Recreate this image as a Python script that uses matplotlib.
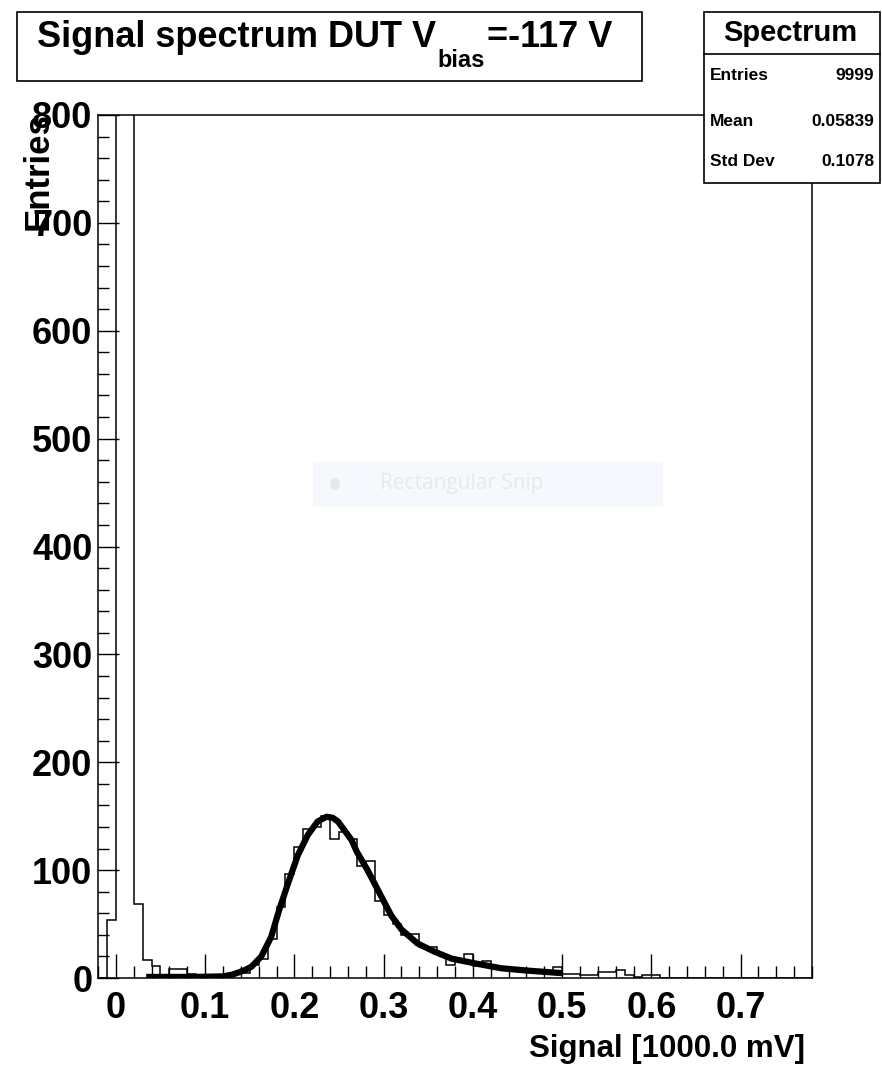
import numpy as np
import matplotlib
matplotlib.use("Agg")
import matplotlib.pyplot as plt
from matplotlib.patches import Rectangle, Circle
from matplotlib.ticker import MultipleLocator

W, H = 882, 1067

# histogram: 80 bins of width 0.01 between -0.02 and 0.78
bin_lo = -0.02
bin_hi = 0.78
counts = [0, 54, 4000, 3911, 69, 17, 11, 1, 8, 8,
          4, 2, 2, 1, 1, 4, 5, 12, 18, 36,
          66, 96, 121, 138, 140, 150, 129, 135, 129, 104,
          108, 71, 58, 50, 40, 41, 29, 29, 22, 12,
          17, 22, 11, 16, 9, 8, 9, 7, 6, 5,
          4, 10, 4, 4, 3, 3, 6, 6, 7, 3,
          1, 3, 3, 0, 0, 0, 0, 0, 0, 0,
          0, 0, 0, 0, 0, 0, 0, 0, 0, 0]

# fitted curve
fit_x = [0.034, 0.06, 0.09, 0.12, 0.13, 0.137, 0.145, 0.152, 0.163, 0.174,
         0.183, 0.193, 0.204, 0.215, 0.226, 0.236, 0.243, 0.249, 0.264, 0.27,
         0.282, 0.294, 0.3085, 0.32, 0.338, 0.357, 0.376, 0.402, 0.432, 0.462, 0.5]
fit_y = [1, 1, 1, 1.5, 3, 5, 7.5, 10.5, 20, 38,
         63, 88, 114, 132.5, 145, 149.5, 148.5, 145, 128, 117,
         100, 81, 58, 45, 32, 24.4, 18, 13.6, 9, 6.8, 4.5]

x_ticks = [0, 0.1, 0.2, 0.3, 0.4, 0.5, 0.6, 0.7]
x_tick_labels = ["0", "0.1", "0.2", "0.3", "0.4", "0.5", "0.6", "0.7"]
y_ticks = [0, 100, 200, 300, 400, 500, 600, 700, 800]

stats_names = ["Entries", "Mean", "Std Dev"]
stats_values = ["9999", "0.05839", "0.1078"]


def fx(px):
    return px / W


def fy(py):
    return 1 - py / H


plt.rcParams["font.family"] = ["Liberation Sans", "DejaVu Sans"]
plt.rcParams["font.weight"] = "bold"

fig = plt.figure(figsize=(W / 100, H / 100), dpi=100)
ax = fig.add_axes([fx(98), fy(978), (812 - 98) / W, (978 - 115) / H])

edges = np.linspace(bin_lo, bin_hi, len(counts) + 1)
ax.stairs(counts, edges, color="black", linewidth=1.1, baseline=None)
ax.plot(fit_x, fit_y, color="black", linewidth=4.5, solid_capstyle="butt",
        solid_joinstyle="round")

ax.set_xlim(bin_lo, bin_hi)
ax.set_ylim(0, 800)
ax.set_xticks(x_ticks, x_tick_labels)
ax.set_yticks(y_ticks)
ax.xaxis.set_minor_locator(MultipleLocator(0.02))
ax.yaxis.set_minor_locator(MultipleLocator(20))
ax.tick_params(axis="both", which="both", direction="in", top=False, right=False,
               width=1.0, labelsize=26)
ax.tick_params(axis="x", which="major", length=17, pad=9)
ax.tick_params(axis="x", which="minor", length=8.5)
ax.tick_params(axis="y", which="major", length=15, pad=4)
ax.tick_params(axis="y", which="minor", length=8)
for s in ax.spines.values():
    s.set_linewidth(1.1)

# axis titles
fig.text(fx(805), fy(1057), "Signal [1000.0 mV]", ha="right", va="baseline",
         fontsize=22.5)
fig.text(fx(38), fy(112), "Entries", rotation=90, ha="center", va="top",
         fontsize=25)

# title box
fig.add_artist(Rectangle((fx(17), fy(81)), (642 - 17) / W, (81 - 12) / H,
                         transform=fig.transFigure, facecolor="white",
                         edgecolor="black", linewidth=1.2, zorder=5))
renderer = fig.canvas.get_renderer()
t1 = fig.text(fx(37), fy(47), "Signal spectrum DUT V", ha="left", va="baseline",
              fontsize=26, zorder=6)
x1 = t1.get_window_extent(renderer).x1
t2 = fig.text(x1 / W + 0.002, fy(67), "bias", ha="left", va="baseline",
              fontsize=17, zorder=6)
x2 = t2.get_window_extent(renderer).x1
fig.text(x2 / W + 0.002, fy(47), "=-117 V", ha="left", va="baseline",
         fontsize=26, zorder=6)

# stats box
fig.add_artist(Rectangle((fx(704), fy(183)), (880 - 704) / W, (183 - 12) / H,
                         transform=fig.transFigure, facecolor="white",
                         edgecolor="black", linewidth=1.2, zorder=5))
fig.add_artist(plt.Line2D([fx(704), fx(880)], [fy(54), fy(54)],
                          transform=fig.transFigure, color="black",
                          linewidth=1.2, zorder=6))
fig.text(fx(790), fy(33), "Spectrum", ha="center", va="center", fontsize=21,
         zorder=6)
for i, (name, val) in enumerate(zip(stats_names, stats_values)):
    yy = [76, 121, 162][i]
    fig.text(fx(710), fy(yy), name, ha="left", va="center", fontsize=12.5,
             zorder=6)
    fig.text(fx(874), fy(yy), val, ha="right", va="center", fontsize=12.5,
             zorder=6)

# faint screen-snip overlay present in the picture
fig.add_artist(Rectangle((fx(313), fy(507)), (663 - 313) / W, (507 - 462) / H,
                         transform=fig.transFigure, facecolor="#f5f9fe",
                         edgecolor="none", zorder=4))
fig.add_artist(Circle((fx(335), fy(484)), 5 / W, transform=fig.transFigure,
                      facecolor="#e6e8ec", edgecolor="none", zorder=4))
fig.text(fx(380), fy(484), "Rectangular Snip", ha="left", va="center",
         fontsize=15, fontweight="normal", color="#e7e8ec",
         family=["Open Sans", "DejaVu Sans"], zorder=4)

fig.savefig("out.png", dpi=100)
